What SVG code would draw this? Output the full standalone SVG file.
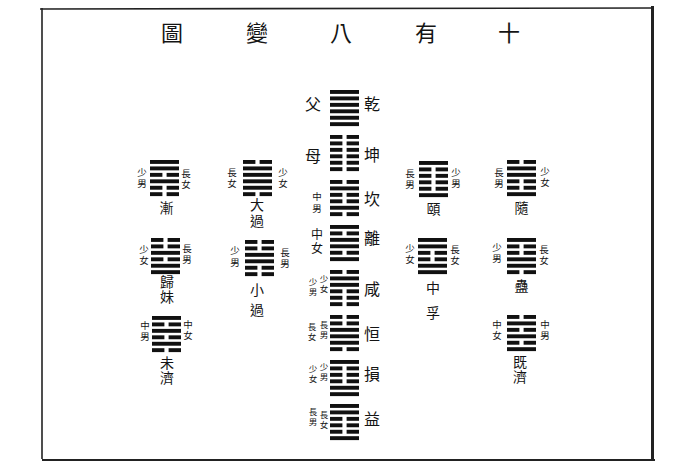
<svg xmlns="http://www.w3.org/2000/svg" width="699" height="466" viewBox="0 0 699 466">
<style>
text{font-family:"Noto Sans CJK TC","Noto Sans CJK SC",serif;fill:#141414;text-anchor:middle;dominant-baseline:central}
.v{writing-mode:vertical-rl}
.t{font-size:22px}
.n{font-size:16px}
.s{font-size:9.5px;letter-spacing:1.5px}
.xs{font-size:8.5px;letter-spacing:1.5px}
.m{font-size:14px;letter-spacing:1px}
.c{font-size:12px;letter-spacing:2px}
.ln{fill:#111}
.fr{stroke:#222;fill:none}
</style>
<defs>
<rect id="yang" class="ln" width="29" height="3.9"/>
<g id="yin" class="ln"><rect width="12.4" height="3.9"/><rect x="16.6" width="12.4" height="3.9"/></g>
</defs>
<rect width="699" height="466" fill="#fff"/>
<g id="frame">
<line class="fr" x1="42" y1="8" x2="42" y2="459" stroke-width="1.6"/>
<line class="fr" x1="40" y1="9" x2="653" y2="8" stroke-width="1.6"/>
<line class="fr" x1="42" y1="460" x2="655" y2="460" stroke-width="1.8"/>
<line class="fr" x1="652.5" y1="6" x2="652.5" y2="461" stroke-width="3"/>
</g>
<g id="title">
<text class="t" x="172" y="31">圖</text>
<text class="t" x="257" y="31">變</text>
<text class="t" x="341" y="31">八</text>
<text class="t" x="426" y="31">有</text>
<text class="t" x="509" y="31">十</text>
</g>
<g id="connectors"/>
<g id="qian" transform="translate(330,90)">
<use href="#yang" y="0"/><use href="#yang" y="6.45"/><use href="#yang" y="12.9"/><use href="#yang" y="19.35"/><use href="#yang" y="25.8"/><use href="#yang" y="32.2"/>
<text class="n" x="42" y="13">乾</text><text class="n" x="-17" y="13">父</text>
</g>
<g id="kun" transform="translate(330,135)">
<use href="#yin" y="0"/><use href="#yin" y="6.45"/><use href="#yin" y="12.9"/><use href="#yin" y="19.35"/><use href="#yin" y="25.8"/><use href="#yin" y="32.2"/>
<text class="n" x="42" y="19">坤</text><text class="n" x="-17" y="20">母</text>
</g>
<g id="kan" transform="translate(330,180)">
<use href="#yin" y="0"/><use href="#yang" y="6.45"/><use href="#yin" y="12.9"/><use href="#yin" y="19.35"/><use href="#yang" y="25.8"/><use href="#yin" y="32.2"/>
<text class="n" x="42" y="18">坎</text><text class="s v" x="-13" y="24" style="letter-spacing:2.5px">中男</text>
</g>
<g id="li" transform="translate(330,225)">
<use href="#yang" y="0"/><use href="#yin" y="6.45"/><use href="#yang" y="12.9"/><use href="#yang" y="19.35"/><use href="#yin" y="25.8"/><use href="#yang" y="32.2"/>
<text class="n" x="42" y="12">離</text><text class="c v" x="-13" y="17">中女</text>
</g>
<g id="xian" transform="translate(330,270)">
<use href="#yin" y="0"/><use href="#yang" y="6.45"/><use href="#yang" y="12.9"/><use href="#yin" y="19.35"/><use href="#yin" y="25.8"/><use href="#yin" y="32.2"/>
<text class="n" x="42" y="18">咸</text>
<text class="xs v" x="-6" y="14.7">少女</text>
<text class="xs v" x="-17" y="17.7">少男</text>
</g>
<g id="heng" transform="translate(330,315)">
<use href="#yin" y="0"/><use href="#yin" y="6.45"/><use href="#yang" y="12.9"/><use href="#yang" y="19.35"/><use href="#yang" y="25.8"/><use href="#yin" y="32.2"/>
<text class="n" x="42" y="18">恒</text>
<text class="xs v" x="-6" y="15.7">長男</text>
<text class="xs v" x="-18" y="17.7">長女</text>
</g>
<g id="sun" transform="translate(330,360)">
<use href="#yang" y="0"/><use href="#yin" y="6.45"/><use href="#yin" y="12.9"/><use href="#yin" y="19.35"/><use href="#yang" y="25.8"/><use href="#yang" y="32.2"/>
<text class="n" x="42" y="13">損</text>
<text class="xs v" x="-6" y="12.7">少男</text>
<text class="xs v" x="-17" y="14.2">少女</text>
</g>
<g id="yi" transform="translate(330,404)">
<use href="#yang" y="0"/><use href="#yang" y="6.45"/><use href="#yin" y="12.9"/><use href="#yin" y="19.35"/><use href="#yin" y="25.8"/><use href="#yang" y="32.2"/>
<text class="n" x="42" y="14">益</text>
<text class="xs v" x="-6" y="16.7">長女</text>
<text class="xs v" x="-17" y="13.7">長男</text>
</g>
<g id="jian" transform="translate(150,160)">
<use href="#yang" y="0"/><use href="#yang" y="6.45"/><use href="#yin" y="12.9"/><use href="#yang" y="19.35"/><use href="#yin" y="25.8"/><use href="#yin" y="32.2"/>
<text class="s v" x="-8" y="18.2">少男</text>
<text class="s v" x="36" y="19.2">長女</text>
<text class="m" x="17" y="47">漸</text>
</g>
<g id="daguo" transform="translate(243,160)">
<use href="#yin" y="0"/><use href="#yang" y="6.45"/><use href="#yang" y="12.9"/><use href="#yang" y="19.35"/><use href="#yang" y="25.8"/><use href="#yin" y="32.2"/>
<text class="s v" x="-11" y="18.2">長女</text>
<text class="s v" x="40" y="18.2">少女</text>
<text class="m v" x="14" y="54" style="letter-spacing:2px">大過</text>
</g>
<g id="guimei" transform="translate(151,238)">
<use href="#yin" y="0"/><use href="#yin" y="6.45"/><use href="#yang" y="12.9"/><use href="#yin" y="19.35"/><use href="#yang" y="25.8"/><use href="#yang" y="32.2"/>
<text class="s v" x="-7" y="17.2">少女</text>
<text class="s v" x="36" y="16.2">長男</text>
<text class="m v" x="16" y="52">歸妹</text>
</g>
<g id="xiaoguo" transform="translate(245,240)">
<use href="#yin" y="0"/><use href="#yin" y="6.45"/><use href="#yang" y="12.9"/><use href="#yang" y="19.35"/><use href="#yin" y="25.8"/><use href="#yin" y="32.2"/>
<text class="s v" x="-10" y="17.2" style="letter-spacing:2.5px">少男</text>
<text class="s v" x="40" y="18.2">長男</text>
<text class="m v" x="12" y="63" style="letter-spacing:6px">小過</text>
</g>
<g id="weiji" transform="translate(152,316)">
<use href="#yang" y="0"/><use href="#yin" y="6.45"/><use href="#yang" y="12.9"/><use href="#yin" y="19.35"/><use href="#yang" y="25.8"/><use href="#yin" y="32.2"/>
<text class="s v" x="-7" y="15.2">中男</text>
<text class="s v" x="36" y="14.2">中女</text>
<text class="m v" x="15" y="55">未濟</text>
</g>
<g id="yi2" transform="translate(419,161)">
<use href="#yang" y="0"/><use href="#yin" y="6.45"/><use href="#yin" y="12.9"/><use href="#yin" y="19.35"/><use href="#yin" y="25.8"/><use href="#yang" y="32.2"/>
<text class="s v" x="-9" y="18.2">長男</text>
<text class="s v" x="37" y="17.2">少男</text>
<text class="m" x="15" y="47">頤</text>
</g>
<g id="sui" transform="translate(507,160)">
<use href="#yin" y="0"/><use href="#yang" y="6.45"/><use href="#yang" y="12.9"/><use href="#yin" y="19.35"/><use href="#yin" y="25.8"/><use href="#yang" y="32.2"/>
<text class="s v" x="-8" y="18.2">長男</text>
<text class="s v" x="38" y="17.2">少女</text>
<text class="m" x="15" y="47">隨</text>
</g>
<g id="zhongfu" transform="translate(418,238)">
<use href="#yang" y="0"/><use href="#yang" y="6.45"/><use href="#yin" y="12.9"/><use href="#yin" y="19.35"/><use href="#yang" y="25.8"/><use href="#yang" y="32.2"/>
<text class="s v" x="-8" y="16.2">少女</text>
<text class="s v" x="37" y="17.2">長女</text>
<text class="m v" x="15" y="68" style="letter-spacing:11px">中孚</text>
</g>
<g id="gu" transform="translate(507,238)">
<use href="#yang" y="0"/><use href="#yin" y="6.45"/><use href="#yin" y="12.9"/><use href="#yang" y="19.35"/><use href="#yang" y="25.8"/><use href="#yin" y="32.2"/>
<text class="s v" x="-10" y="15.2">少男</text>
<text class="s v" x="37" y="17.2">長女</text>
<text class="m" x="15" y="47">蠱</text>
</g>
<g id="jiji" transform="translate(507,315)">
<use href="#yin" y="0"/><use href="#yang" y="6.45"/><use href="#yin" y="12.9"/><use href="#yang" y="19.35"/><use href="#yin" y="25.8"/><use href="#yang" y="32.2"/>
<text class="s v" x="-10" y="15.2">中女</text>
<text class="s v" x="38" y="15.2">中男</text>
<text class="m v" x="13" y="55">既濟</text>
</g>
</svg>
